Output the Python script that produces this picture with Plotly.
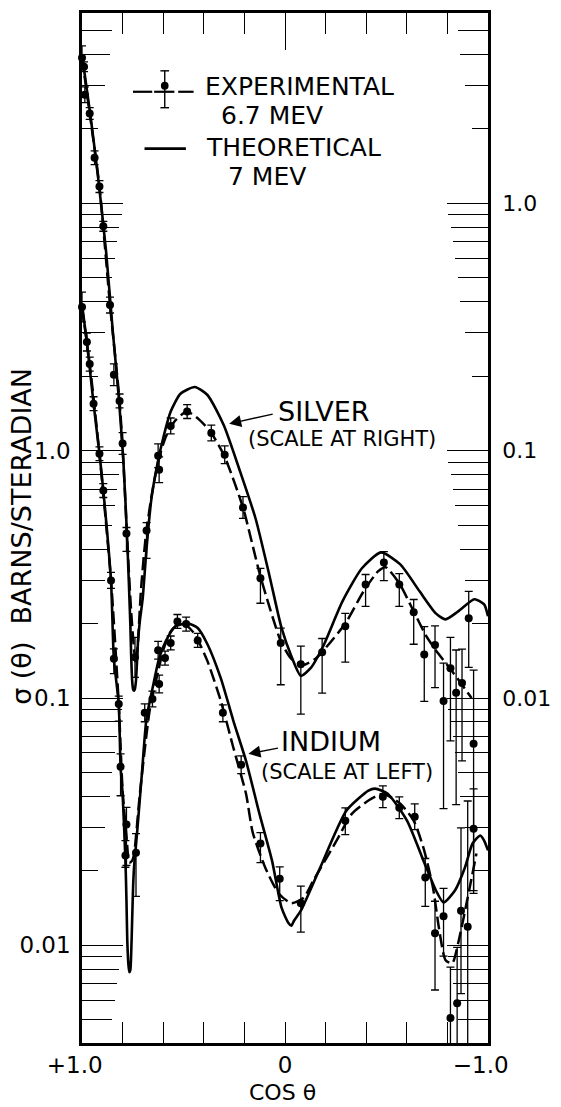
import math
import plotly.graph_objects as go

# ---------------- data ----------------
# SILVER, experimental 6.7 MeV (scale at right)
silver_cos = [1.000, 0.990, 0.986, 0.962, 0.938, 0.914, 0.895, 0.862, 0.843, 0.815, 0.800, 0.781,
              0.739, 0.682, 0.625, 0.620, 0.563, 0.482, 0.363, 0.297, 0.207, 0.121, 0.021, -0.078,
              -0.183, -0.297, -0.397, -0.487, -0.563, -0.634, -0.686, -0.739, -0.781, -0.815, -0.843,
              -0.872, -0.905, -0.929]
silver_sigma = [3.88, 3.57, 2.75, 2.31, 1.53, 1.17, 0.808, 0.388, 0.203, 0.159, 0.107, 0.0463,
                0.0146, 0.0476, 0.0955, 0.0838, 0.126, 0.144, 0.118, 0.0963, 0.0589, 0.0305, 0.0167, 0.0137,
                0.0153, 0.0195, 0.0288, 0.0353, 0.0288, 0.0222, 0.0150, 0.0164, 0.00973, 0.0132, 0.0105,
                0.0115, 0.0210, 0.00653]
# error bar extents, in decades above / below the point
silver_err_up = [0.048, 0.020, 0.032, 0.024, 0.028, 0.024, 0.020, 0.032, 0.044, 0.028, 0.044, 0.024,
                 0.081, 0.032, 0.048, 0.052, 0.032, 0.028, 0.032, 0.036, 0.044, 0.040, 0.060, 0.073,
                 0.056, 0.052, 0.040, 0.044, 0.044, 0.052, 0.113, 0.077, 0.153, 0.125, 0.173,
                 0.137, 0.109, 0.298]
silver_err_dn = [0.048, 0.020, 0.032, 0.024, 0.028, 0.024, 0.020, 0.032, 0.044, 0.028, 0.044, 0.073,
                 0.081, 0.113, 0.048, 0.052, 0.032, 0.028, 0.032, 0.036, 0.044, 0.101, 0.169, 0.202,
                 0.165, 0.145, 0.089, 0.073, 0.089, 0.129, 0.190, 0.173, 0.435, 0.294, 0.452,
                 0.315, 0.198, 0.605]
# SILVER, smooth curve through experiment (dashed)
silver_fit_cos = [1.000, 0.962, 0.914, 0.862, 0.815, 0.796, 0.777, 0.758, 0.743, 0.734, 0.724, 0.710,
                  0.686, 0.658, 0.625, 0.587, 0.539, 0.482, 0.420, 0.363, 0.297, 0.207, 0.121, 0.021,
                  -0.031, -0.088, -0.150, -0.221, -0.297, -0.387, -0.458, -0.496, -0.563, -0.634,
                  -0.696, -0.753, -0.815, -0.876, -0.919]
silver_fit_sigma = [3.88, 2.31, 1.17, 0.388, 0.159, 0.0903, 0.0430, 0.0224, 0.0155, 0.0138, 0.0170, 0.0270,
                    0.0450, 0.0652, 0.0903, 0.114, 0.133, 0.144, 0.133, 0.118, 0.0945, 0.0589, 0.0310, 0.0170,
                    0.0144, 0.0136, 0.0144, 0.0167, 0.0200, 0.0270, 0.0325, 0.0338, 0.0291, 0.0224,
                    0.0178, 0.0152, 0.0131, 0.0112, 0.0100]
# SILVER, theoretical 7 MeV (solid)
silver_th_cos = [1.000, 0.957, 0.919, 0.881, 0.848, 0.819, 0.796, 0.777, 0.762, 0.758, 0.753, 0.748,
                 0.743, 0.739, 0.734, 0.729, 0.724, 0.715, 0.701, 0.682, 0.658, 0.629, 0.596, 0.563,
                 0.515, 0.444, 0.382, 0.302, 0.221, 0.145, 0.078, 0.017, -0.031, -0.078, -0.126,
                 -0.188, -0.283, -0.378, -0.473, -0.568, -0.663, -0.743, -0.791, -0.853, -0.933,
                 -0.981, -1.000]
silver_th_sigma = [3.99, 2.22, 1.24, 0.634, 0.302, 0.165, 0.0903, 0.0430, 0.0200, 0.0150, 0.0118, 0.0108,
                   0.0107, 0.0109, 0.0118, 0.0140, 0.0170, 0.0205, 0.0253, 0.0403, 0.0640, 0.0879, 0.116, 0.144,
                   0.170, 0.181, 0.168, 0.127, 0.0823, 0.0532, 0.0316, 0.0192, 0.0148, 0.0123, 0.0132,
                   0.0162, 0.0246, 0.0334, 0.0388, 0.0347, 0.0270, 0.0220, 0.0208, 0.0224, 0.0251,
                   0.0239, 0.0214]

# INDIUM, experimental 6.7 MeV (scale at left)
indium_cos = [1.000, 0.976, 0.962, 0.943, 0.914, 0.895, 0.857, 0.843, 0.819, 0.810, 0.786, 0.781, 0.734,
              0.691, 0.653, 0.625, 0.620, 0.591, 0.563, 0.530, 0.487, 0.430, 0.306, 0.216, 0.121, 0.026,
              -0.078, -0.297, -0.482, -0.563, -0.639, -0.691, -0.739, -0.781, -0.815, -0.848, -0.867,
              -0.900, -0.929]
indium_sigma = [3.81, 2.75, 2.24, 1.55, 0.972, 0.690, 0.299, 0.144, 0.0946, 0.0527, 0.0231, 0.0308, 0.0237,
                0.0871, 0.0991, 0.156, 0.114, 0.145, 0.167, 0.204, 0.199, 0.171, 0.0871, 0.0537, 0.0258, 0.0186,
                0.0148, 0.0319, 0.0399, 0.0360, 0.0331, 0.0188, 0.0112, 0.0131, 0.00508, 0.00583, 0.0138,
                0.0119, 0.0296]
indium_err_up = [0.060, 0.036, 0.028, 0.028, 0.028, 0.028, 0.032, 0.040, 0.032, 0.052, 0.060, 0.069, 0.077,
                 0.036, 0.032, 0.036, 0.036, 0.028, 0.028, 0.028, 0.028, 0.028, 0.032, 0.036, 0.044, 0.048,
                 0.069, 0.052, 0.044, 0.044, 0.052, 0.077, 0.129, 0.113, 0.206, 0.226, 0.335, 0.508, 0.161]
indium_err_dn = [0.060, 0.036, 0.028, 0.028, 0.028, 0.028, 0.032, 0.060, 0.069, 0.117, 0.048, 0.165, 0.177,
                 0.036, 0.032, 0.036, 0.036, 0.028, 0.028, 0.028, 0.028, 0.028, 0.036, 0.036, 0.077, 0.089,
                 0.117, 0.056, 0.044, 0.044, 0.052, 0.117, 0.230, 0.161, 0.157, 0.218, 0.335, 0.528, 0.250]
indium_fit_cos = [1.000, 0.962, 0.914, 0.857, 0.819, 0.800, 0.781, 0.767, 0.753, 0.743, 0.715, 0.667,
                  0.625, 0.601, 0.563, 0.525, 0.482, 0.444, 0.382, 0.316, 0.254, 0.192, 0.159, 0.097,
                  0.031, -0.031, -0.093, -0.140, -0.254, -0.330, -0.411, -0.482, -0.568, -0.634,
                  -0.682, -0.729, -0.758, -0.791, -0.824, -0.853, -0.900, -0.943]
indium_fit_sigma = [3.81, 2.24, 0.972, 0.299, 0.0946, 0.0422, 0.0278, 0.0216, 0.0220, 0.0235, 0.0410, 0.0887,
                    0.128, 0.155, 0.186, 0.199, 0.195, 0.181, 0.141, 0.0973, 0.0628, 0.0410, 0.0286, 0.0206,
                    0.0162, 0.0148, 0.0156, 0.0183, 0.0265, 0.0341, 0.0385, 0.0410, 0.0374, 0.0319,
                    0.0248, 0.0171, 0.0118, 0.00871, 0.00846, 0.0102, 0.0156, 0.0235]
indium_th_cos = [1.000, 0.976, 0.943, 0.914, 0.895, 0.857, 0.843, 0.819, 0.810, 0.800, 0.786, 0.781,
                 0.777, 0.772, 0.767, 0.762, 0.758, 0.753, 0.748, 0.743, 0.729, 0.705, 0.682, 0.648,
                 0.620, 0.587, 0.539, 0.477, 0.430, 0.382, 0.316, 0.254, 0.192, 0.126, 0.064, 0.017,
                 -0.017, -0.031, -0.045, -0.078, -0.173, -0.302, -0.411, -0.444, -0.506, -0.601,
                 -0.682, -0.743, -0.781, -0.838, -0.886, -0.924, -0.962, -0.981, -1.000]
indium_th_sigma = [3.91, 2.75, 1.55, 0.972, 0.690, 0.296, 0.144, 0.0946, 0.0527, 0.0410, 0.0220, 0.0152,
                   0.0105, 0.00850, 0.00778, 0.00793, 0.00912, 0.0126, 0.0175, 0.0210, 0.0283, 0.0494,
                   0.0830, 0.114, 0.145, 0.170, 0.195, 0.200, 0.192, 0.165, 0.120, 0.0807, 0.0557, 0.0341,
                   0.0220, 0.0142, 0.0123, 0.0120, 0.0126, 0.0138, 0.0206, 0.0350, 0.0422, 0.0430, 0.0410,
                   0.0319, 0.0220, 0.0167, 0.0149, 0.0167, 0.0206, 0.0258, 0.0278, 0.0265, 0.0242]

x_tick_vals = [1.0, 0.8, 0.6, 0.4, 0.2, 0.0, -0.2, -0.4, -0.6, -0.8, -1.0]
x_tick_text = ["+1.0\u00a0\u00a0", "", "", "", "", "0", "", "", "", "", "\u22121.0\u00a0\u00a0"]
left_decades = [0.01, 0.1, 1.0, 10.0]
left_labels = ["0.01", "0.1", "1.0", ""]
right_decades = [0.001, 0.01, 0.1, 1.0]
right_labels = ["", "0.01", "0.1", "1.0"]

# ---------------- styling ----------------
FONT = "DejaVu Sans"
INK = "black"
W, H = 561, 1107
ML, MR, MT, MB = 82, 57, 10, 64
PW, PH = W - ML - MR, H - MT - MB
Y_LEFT = [-2.395, 1.770]                # log10 range of left axis
Y_RIGHT = [Y_LEFT[0] - 1, Y_LEFT[1] - 1]  # right scale = left / 10
TICK_W = 1.4
MANTISSA_LEN = {2: 16, 3: 23, 4: 28, 5: 30, 6: 33, 7: 35, 8: 37, 9: 40}


def px(xp):
    return (xp - ML) / PW


def py(yp):
    return (MT + PH - yp) / PH


def err_arrays(vals, up, dn):
    plus = [v * (10 ** u - 1) for v, u in zip(vals, up)]
    minus = [v * (1 - 10 ** (-d)) for v, d in zip(vals, dn)]
    return plus, minus


fig = go.Figure()

solid = dict(color=INK, width=2.6, shape="spline", smoothing=0.6)
dashed = dict(color=INK, width=2.5, dash="13px,5px", shape="spline", smoothing=0.6)

# indium (left scale)
fig.add_trace(go.Scatter(x=indium_th_cos, y=indium_th_sigma, mode="lines", line=solid,
                         yaxis="y", showlegend=False, cliponaxis=False))
fig.add_trace(go.Scatter(x=indium_fit_cos, y=indium_fit_sigma, mode="lines", line=dashed,
                         yaxis="y", showlegend=False, cliponaxis=False))
ip, im = err_arrays(indium_sigma, indium_err_up, indium_err_dn)
fig.add_trace(go.Scatter(x=indium_cos, y=indium_sigma, mode="markers",
                         marker=dict(color=INK, size=8),
                         error_y=dict(type="data", symmetric=False, array=ip, arrayminus=im,
                                      color=INK, thickness=1.3, width=4),
                         yaxis="y", showlegend=False, cliponaxis=False))

# silver (right scale)
fig.add_trace(go.Scatter(x=silver_th_cos, y=silver_th_sigma, mode="lines", line=solid,
                         yaxis="y2", showlegend=False, cliponaxis=False))
fig.add_trace(go.Scatter(x=silver_fit_cos, y=silver_fit_sigma, mode="lines", line=dashed,
                         yaxis="y2", showlegend=False, cliponaxis=False))
sp, sm = err_arrays(silver_sigma, silver_err_up, silver_err_dn)
fig.add_trace(go.Scatter(x=silver_cos, y=silver_sigma, mode="markers",
                         marker=dict(color=INK, size=8),
                         error_y=dict(type="data", symmetric=False, array=sp, arrayminus=sm,
                                      color=INK, thickness=1.3, width=4),
                         yaxis="y2", showlegend=False, cliponaxis=False))

# ---------------- axes ----------------
layout_axes = {}
n = 3
for side, rng in (("left", Y_LEFT), ("right", Y_RIGHT)):
    for m, ln in MANTISSA_LEN.items():
        vals = [m * 10 ** e for e in range(-5, 4)
                if rng[0] <= math.log10(m * 10 ** e) <= rng[1]]
        layout_axes[f"yaxis{n}"] = dict(
            type="log", range=rng, overlaying="y", side=side, anchor="x",
            tickmode="array", tickvals=vals, ticks="inside", ticklen=ln,
            tickwidth=TICK_W, tickcolor=INK, showticklabels=False,
            showline=False, showgrid=False, zeroline=False)
        fig.add_trace(go.Scatter(x=[], y=[], yaxis=f"y{n}", showlegend=False, hoverinfo="skip"))
        n += 1

fig.add_trace(go.Scatter(x=[], y=[], xaxis="x2", yaxis="y", showlegend=False, hoverinfo="skip"))

fig.update_layout(
    width=W, height=H, margin=dict(l=ML, r=MR, t=MT, b=MB),
    paper_bgcolor="white", plot_bgcolor="white",
    font=dict(family=FONT, color=INK),
    xaxis=dict(range=[1.0, -1.0], autorange=False, tickmode="array",
               tickvals=x_tick_vals, ticktext=x_tick_text,
               ticks="inside", ticklen=21, tickwidth=TICK_W, tickcolor=INK,
               showline=True, linewidth=2.5, linecolor=INK, mirror="ticks",
               showgrid=False, zeroline=False, tickfont=dict(size=23, family=FONT),
               ticklabelstandoff=0),
    xaxis2=dict(range=[1.0, -1.0], autorange=False, overlaying="x", side="top", anchor="y",
                tickmode="array", tickvals=[0.0], ticks="inside", ticklen=37,
                tickwidth=TICK_W, tickcolor=INK, showticklabels=False,
                showline=False, showgrid=False, zeroline=False),
    yaxis=dict(type="log", range=Y_LEFT, autorange=False, tickmode="array",
               tickvals=left_decades, ticktext=left_labels,
               ticks="inside", ticklen=41, tickwidth=TICK_W, tickcolor=INK,
               showline=True, linewidth=2.5, linecolor=INK, showgrid=False, zeroline=False,
               tickfont=dict(size=23, family=FONT), ticklabelstandoff=4),
    yaxis2=dict(type="log", range=Y_RIGHT, autorange=False, overlaying="y", side="right",
                anchor="x", tickmode="array", tickvals=right_decades, ticktext=right_labels,
                ticks="inside", ticklen=41, tickwidth=TICK_W, tickcolor=INK,
                showline=True, linewidth=2.5, linecolor=INK, showgrid=False, zeroline=False,
                tickfont=dict(size=22, family=FONT), ticklabelstandoff=7),
    **layout_axes,
)

# ---------------- legend glyphs ----------------
shapes = []
leg_y = py(89)
for a, b in ((135, 155), (157, 178), (182, 198)):
    shapes.append(dict(type="line", xref="paper", yref="paper", x0=px(a), x1=px(b),
                       y0=leg_y, y1=leg_y, line=dict(color=INK, width=2.2)))
shapes.append(dict(type="line", xref="paper", yref="paper", x0=px(168), x1=px(168),
                   y0=py(68), y1=py(105), line=dict(color=INK, width=1.4)))
for yy in (68, 105):
    shapes.append(dict(type="line", xref="paper", yref="paper", x0=px(163.5), x1=px(172.5),
                       y0=py(yy), y1=py(yy), line=dict(color=INK, width=1.4)))
shapes.append(dict(type="circle", xref="paper", yref="paper", x0=px(164), x1=px(172),
                   y0=py(87), y1=py(79), fillcolor=INK, line=dict(color=INK, width=0)))
shapes.append(dict(type="line", xref="paper", yref="paper", x0=px(147), x1=px(190),
                   y0=py(146), y1=py(146), line=dict(color=INK, width=2.6)))
fig.update_layout(shapes=shapes)

# ---------------- text ----------------
def label(text, x, y, size, xanchor="left", angle=0):
    return dict(text=text, xref="paper", yref="paper", x=x, y=y, xanchor=xanchor,
                yanchor="middle", showarrow=False, textangle=angle,
                font=dict(family=FONT, size=size, color=INK))


annotations = [
    label("EXPERIMENTAL", px(208), py(84), 25),
    label("6.7 MEV", px(224), py(113), 25),
    label("THEORETICAL", px(209), py(145), 25),
    label("7 MEV", px(232), py(174), 25),
    label("SILVER", px(284), py(410), 27),
    label("(SCALE AT RIGHT)", px(252), py(437), 21),
    label("INDIUM", px(287), py(741), 27),
    label("(SCALE AT LEFT)", px(266), py(771), 21),
    label("COS \u03b8", px(290), py(1093), 22, xanchor="center"),
    label("\u03c3 (\u03b8)\u00a0\u00a0BARNS/STERADIAN", px(19), py(535), 27,
          xanchor="center", angle=-90),
    dict(text="", xref="paper", yref="paper", x=px(235), y=py(422), ax=45, ay=-10,
         showarrow=True, arrowhead=2, arrowsize=1.6, arrowwidth=1.5, arrowcolor=INK),
    dict(text="", xref="paper", yref="paper", x=px(255), y=py(753), ax=31, ay=-6,
         showarrow=True, arrowhead=2, arrowsize=1.6, arrowwidth=1.5, arrowcolor=INK),
]
fig.update_layout(annotations=annotations)

fig.write_html("out.html")
